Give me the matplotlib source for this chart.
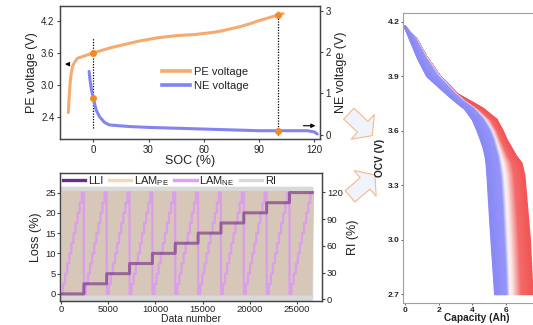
import numpy as np
import matplotlib
matplotlib.use("Agg")
import matplotlib.pyplot as plt
from matplotlib.colors import LinearSegmentedColormap
from matplotlib.lines import Line2D
from matplotlib.patches import FancyArrow

plt.rcParams['font.family'] = ['Liberation Sans', 'DejaVu Sans']
plt.rcParams['mathtext.fontset'] = 'custom'
plt.rcParams['mathtext.rm'] = 'Liberation Sans'
plt.rcParams['mathtext.it'] = 'Liberation Sans:italic'
plt.rcParams['mathtext.bf'] = 'Liberation Sans:bold'
plt.rcParams['text.color'] = '#222222'
plt.rcParams['axes.labelcolor'] = '#222222'
plt.rcParams['xtick.color'] = '#444444'
plt.rcParams['ytick.color'] = '#444444'
plt.rcParams['xtick.labelcolor'] = '#222222'
plt.rcParams['ytick.labelcolor'] = '#222222'

# Half-cell voltages vs SOC
PE_SOC = [-13.5, -13, -12.5, -12, -11.2, -10, -8.5, -5, 0, 5, 10, 15, 20, 25, 30,
          35, 40, 45, 50, 55, 60, 65, 70, 75, 80, 85, 90, 95, 100, 103]
PE_V = [2.49, 2.80, 3.05, 3.20, 3.35, 3.43, 3.50, 3.54, 3.60, 3.65, 3.70, 3.74, 3.78, 3.82, 3.85,
        3.88, 3.90, 3.92, 3.93, 3.94, 3.96, 3.98, 4.01, 4.05, 4.09, 4.14, 4.20, 4.25, 4.30, 4.33]
NE_SOC = [-2.2, -1.8, -1.0, 0, 1.6, 3.4, 6.1, 8.8, 14, 20, 30, 45, 60, 75, 90, 100, 110, 116, 120, 121.5]
NE_V = [1.53, 1.35, 1.10, 0.89, 0.60, 0.44, 0.30, 0.24, 0.22, 0.20, 0.18, 0.16, 0.14, 0.12, 0.10,
        0.10, 0.10, 0.10, 0.07, 0.02]
MARK_SOC = [0, 100]
MARK_PE = [3.60, 4.30]
MARK_NE = [0.89, 0.10]

# Degradation-mode levels (full grid: LLI slowest, RI fastest)
LLI_LEVELS = [0, 2.5, 5, 7.5, 10, 12.5, 15, 17.5, 20, 22.5, 25]
LAM_NE_LEVELS = [0, 2.5, 5, 7.5, 10, 12.5, 15, 17.5, 20, 22.5, 25]
LAM_PE_LEVELS = [0, 2.5, 5, 7.5, 10, 12.5, 15, 17.5, 20, 22.5, 25]
RI_LEVELS = [0, 7, 13, 20, 26, 33, 39, 46, 53, 59, 66, 72, 79, 86, 92, 99, 105, 112, 118, 125]

# OCV curves: capacity (Ah) at each voltage for the band edges
OCV_V = [4.17, 4.10, 4.00, 3.90, 3.80, 3.76, 3.72, 3.66, 3.60, 3.55, 3.50, 3.46, 3.42, 3.35, 3.22, 3.00, 2.85, 2.70]
Q_BLUE_LOW = [0.00, 0.30, 0.75, 1.30, 2.50, 3.00, 3.55, 4.02, 4.30, 4.50, 4.68, 4.78, 4.84, 4.90, 4.98, 5.13, 5.24, 5.35]
Q_BLUE_HIGH = [0.00, 0.70, 1.30, 2.05, 3.05, 3.55, 4.15, 4.75, 5.15, 5.35, 5.50, 5.62, 5.70, 5.82, 5.92, 6.03, 6.10, 6.15]
Q_RED = [0.00, 0.70, 1.30, 2.06, 3.10, 3.90, 4.65, 5.45, 5.80, 6.04, 6.35, 6.60, 6.93, 7.10, 7.22, 7.42, 7.50, 7.58]

n_lli, n_ne, n_pe, n_ri = len(LLI_LEVELS), len(LAM_NE_LEVELS), len(LAM_PE_LEVELS), len(RI_LEVELS)
lli = np.repeat(LLI_LEVELS, n_ne * n_pe * n_ri)
lam_ne = np.tile(np.repeat(LAM_NE_LEVELS, n_pe * n_ri), n_lli)
lam_pe = np.tile(np.repeat(LAM_PE_LEVELS, n_ri), n_lli * n_ne)
ri = np.tile(RI_LEVELS, n_lli * n_ne * n_pe)
data_num = np.arange(len(lli))

fig = plt.figure(figsize=(5.33, 3.25), dpi=100)


def style(ax, size=7, length=2.5, pad=1.5):
    for s in ax.spines.values():
        s.set_color('#444444')
        s.set_linewidth(0.9)
    ax.tick_params(labelsize=size, length=length, width=0.8, pad=pad)


# ---- top: half-cell voltages
ax1 = fig.add_axes([0.1126, 0.5723, 0.4878, 0.4092])
ax1b = ax1.twinx()
ax1.plot(PE_SOC, PE_V, color='#F5AB70', lw=2.2, solid_capstyle='round')
ax1b.plot(NE_SOC, NE_V, color='#8484F0', lw=2.2, solid_capstyle='round')
ax1.vlines(MARK_SOC, [2.20, 2.08], [3.87, 4.37], colors='k', linestyles=(0, (1, 1.2)), lw=0.9)
ax1.plot(MARK_SOC, MARK_PE, 'o', color='#F28A22', ms=4)
ax1b.plot(MARK_SOC, MARK_NE, 'o', color='#F28A22', ms=4)
ax1.annotate('', xy=(-16.8, 3.39), xytext=(-11.5, 3.39),
             arrowprops=dict(arrowstyle='-|>', color='k', lw=0.8, mutation_scale=6))
ax1b.annotate('', xy=(122, 0.22), xytext=(112.5, 0.22),
              arrowprops=dict(arrowstyle='-|>', color='k', lw=0.8, mutation_scale=6))
ax1.set_xlim(-18, 123)
ax1.set_ylim(2.0, 4.47)
ax1b.set_ylim(-0.1, 3.11)
ax1.set_xticks([0, 30, 60, 90, 120])
ax1.set_yticks([2.4, 3.0, 3.6, 4.2])
ax1b.set_yticks([0, 1, 2, 3])
ax1.set_xlabel('SOC (%)', fontsize=9, labelpad=0)
ax1.set_ylabel('PE voltage (V)', fontsize=9, labelpad=2)
ax1b.set_ylabel('NE voltage (V)', fontsize=9, labelpad=3)
style(ax1)
style(ax1b)
leg_h = [Line2D([], [], color='#F5AB70', lw=2.6), Line2D([], [], color='#8484F0', lw=2.6)]
ax1b.legend(leg_h, ['PE voltage', 'NE voltage'], loc='center left', bbox_to_anchor=(0.352, 0.451),
            frameon=False, fontsize=8, handlelength=2.6, labelspacing=0.35, handletextpad=0.3)

# ---- bottom: degradation modes
ax2 = fig.add_axes([0.1126, 0.0738, 0.4916, 0.3948])
ax2r = ax2.twinx()
ax2r.plot(data_num, ri, color='#D9D9D9', lw=1.5)
ax2.plot(data_num, lam_pe, color='#D7C7B8', lw=2.5)
ax2.plot(data_num, lam_ne, color='#DA9EEA', lw=1.6)
ax2.plot(data_num, lli, color='#6E2A80', lw=2.2, alpha=0.6)
ax2.set_zorder(ax2r.get_zorder() + 1)
ax2.patch.set_visible(False)
ax2.set_xlim(-100, 27650)
ax2.set_ylim(-1.75, 29.9)
ax2r.set_ylim(-1.8, 142)
ax2.set_xticks([0, 5000, 10000, 15000, 20000, 25000])
ax2.set_yticks([0, 5, 10, 15, 20, 25])
ax2r.set_yticks([0, 30, 60, 90, 120])
style(ax2, size=6.8, length=2, pad=1)
style(ax2r, size=6.8, length=2, pad=1.5)
ax2.set_xlabel('Data number', fontsize=7.5, labelpad=0)
ax2.set_ylabel('Loss (%)', fontsize=9, labelpad=2)
ax2r.set_ylabel('RI (%)', fontsize=9, labelpad=3)
leg2_h = [Line2D([], [], color='#6E2A80', lw=2.4), Line2D([], [], color='#FAD6B5', lw=2.4),
          Line2D([], [], color='#E49CF4', lw=2.4), Line2D([], [], color='#D9D9D9', lw=2.4)]
ax2.legend(leg2_h, ['LLI', 'LAM$_{\\rm PE}$', 'LAM$_{\\rm NE}$', 'RI'], ncol=4, loc='upper left',
           bbox_to_anchor=(-0.01, 1.035), frameon=False, fontsize=8, handlelength=2.0,
           handletextpad=0.25, columnspacing=0.5, borderaxespad=0.1)

# ---- right: OCV curves
ax3 = fig.add_axes([0.7567, 0.0668, 0.2747, 0.8923])
ocv = np.array(OCV_V)
q_low, q_high, q_red = np.array(Q_BLUE_LOW), np.array(Q_BLUE_HIGH), np.array(Q_RED)
red_cmap = LinearSegmentedColormap.from_list('r', [(0, '#FFFFFF'), (0.2, '#FBE4E4'),
                                                   (0.55, '#F46A6A'), (1, '#F25656')])
blue_cmap = LinearSegmentedColormap.from_list('b', [(0, '#8A8AF7'), (0.8, '#9595F7'),
                                                    (1, '#E4E4FC')])
for w in np.linspace(0, 1, 30):
    ax3.plot(q_high + w * (q_red - q_high), ocv, color=red_cmap(w), lw=1.5)
for w in np.linspace(1, 0, 30):
    ax3.plot(q_low + w * (q_high - q_low), ocv, color=blue_cmap(w), lw=1.5)
ax3.set_xlim(-0.1, 8.6)
ax3.set_ylim(2.649, 4.246)
ax3.set_xticks([0, 2, 4, 6])
ax3.set_yticks([2.7, 3.0, 3.3, 3.6, 3.9, 4.2])
ax3.tick_params(labelsize=6, length=1.5, width=0.6, pad=1)
for t in ax3.get_xticklabels() + ax3.get_yticklabels():
    t.set_fontweight('bold')
for s in ax3.spines.values():
    s.set_color('#A0A0A0')
    s.set_linewidth(0.8)
ax3.set_xlabel('Capacity (Ah)', fontsize=7.3, fontweight='bold', labelpad=-0.5)
ax3.set_ylabel('OCV (V)', fontsize=7.3, fontweight='bold', labelpad=2)

# ---- block arrows between panels (pixel overlay)
ov = fig.add_axes([0, 0, 1, 1], zorder=-1)
ov.set_xlim(0, 533)
ov.set_ylim(325, 0)
ov.axis('off')
for (x0, y0, dx, dy) in [(348.8, 113.7, 23.4, 22.0), (350.0, 196.3, 25.0, -21.3)]:
    ov.add_patch(FancyArrow(x0, y0, dx, dy, width=15, head_width=34, head_length=13,
                            length_includes_head=True, fc='#EEF3FC', ec='#F6B88A', lw=0.8))

fig.savefig('out.png', dpi=100)
